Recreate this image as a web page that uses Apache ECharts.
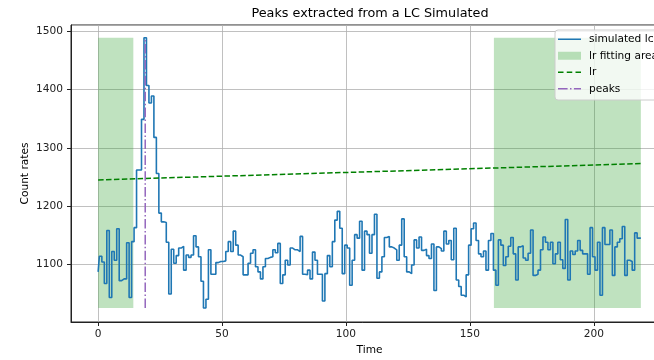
<!DOCTYPE html>
<html>
<head>
<meta charset="utf-8">
<script src="https://cdn.jsdelivr.net/npm/echarts@6/dist/echarts.min.js"></script>
<style>
html, body { margin: 0; padding: 0; background: #fff; }
#chart { width: 654px; height: 360px; }
</style>
</head>
<body>
<div id="chart"></div>
<script>
// simulated light curve, one count rate per time bin (t = 0 .. 219)
var lcRates = [
	1087, 1114, 1104, 1067, 1158, 1043, 1122, 1107, 1161, 1072,
	1075, 1075, 1137, 1043, 1139, 1163, 1262, 1262, 1349, 1489,
	1407, 1377, 1389, 1318, 1256, 1188, 1173, 1172, 1138, 1049,
	1126, 1102, 1115, 1128, 1131, 1090, 1116, 1112, 1116, 1149,
	1130, 1113, 1071, 1025, 1040, 1125, 1083, 1083, 1103, 1105,
	1105, 1106, 1122, 1139, 1122, 1157, 1133, 1116, 1113, 1082,
	1082, 1102, 1119, 1125, 1096, 1087, 1075, 1096, 1110, 1112,
	1113, 1125, 1120, 1136, 1067, 1082, 1107, 1099, 1128, 1125,
	1125, 1122, 1148, 1083, 1082, 1090, 1075, 1121, 1107, 1083,
	1083, 1037, 1084, 1115, 1096, 1139, 1176, 1191, 1162, 1084,
	1133, 1128, 1064, 1107, 1151, 1145, 1174, 1090, 1157, 1151,
	1119, 1151, 1186, 1076, 1087, 1113, 1146, 1148, 1130, 1128,
	1125, 1107, 1133, 1178, 1113, 1087, 1084, 1099, 1142, 1128,
	1147, 1124, 1126, 1115, 1110, 1135, 1055, 1130, 1127, 1123,
	1157, 1135, 1141, 1108, 1162, 1073, 1062, 1047, 1044, 1082,
	1133, 1161, 1171, 1141, 1118, 1113, 1123, 1090, 1141, 1153,
	1090, 1064, 1142, 1133, 1098, 1113, 1131, 1146, 1118, 1073,
	1130, 1132, 1111, 1107, 1119, 1159, 1081, 1083, 1090, 1125,
	1147, 1138, 1125, 1138, 1101, 1118, 1138, 1108, 1093, 1177,
	1073, 1123, 1117, 1123, 1141, 1124, 1118, 1118, 1083, 1163,
	1113, 1090, 1138, 1047, 1163, 1134, 1134, 1159, 1081, 1130,
	1138, 1144, 1165, 1081, 1107, 1105, 1090, 1154, 1145, 1145
];

// linear fit (lr) end points
var lrTimes = [0, 219];
var lrRates = [1245, 1273];

// detected peaks
var peakTimes = [19];

// lr fitting areas [start, end]
var fitStarts = [0, 159.7];
var fitEnds = [14.2, 219];

var chart = echarts.init(document.getElementById('chart'));

var lcMin = Math.min.apply(null, lcRates);
var lcMax = Math.max.apply(null, lcRates);

var lcData = lcRates.map(function (v, i) { return [i, v]; });
var lrData = lrTimes.map(function (t, i) { return [t, lrRates[i]]; });
var peakData = [];
peakTimes.forEach(function (t) {
	peakData.push([t, lcMin], [t, lcMax], null);
});
var areaData = fitStarts.map(function (s, i) {
	return [{ xAxis: s, yAxis: lcMin }, { xAxis: fitEnds[i], yAxis: lcMax }];
});

var font = 'DejaVu Sans';
var fs = 10.6;

option = {
	animation: false,
	title: {
		text: 'Peaks extracted from a LC Simulated',
		left: 370,
		textAlign: 'center',
		top: 7,
		padding: 0,
		textStyle: { fontFamily: font, fontSize: 12.8, fontWeight: 'normal', color: '#000' }
	},
	grid: {
		left: 71, right: -14, top: 25, bottom: 38,
		outerBoundsMode: 'none',
		containLabel: false,
		show: true, borderColor: '#222', borderWidth: 1, backgroundColor: '#fff'
	},
	legend: {
		orient: 'vertical',
		left: 555,
		top: 30,
		padding: [3, 3, 5, 3],
		itemGap: 4,
		itemWidth: 23,
		itemHeight: 8,
		backgroundColor: 'rgba(255,255,255,0.8)',
		borderColor: '#ccc',
		borderWidth: 1,
		borderRadius: 3,
		textStyle: { fontFamily: font, fontSize: fs, lineHeight: 12.5, color: '#000', padding: [0, 0, 0, 3] },
		data: [
			{ name: 'simulated lc', icon: 'path://M0,0h23v1.5h-23z', itemStyle: { color: '#1f77b4', borderWidth: 0 } },
			{ name: 'lr fitting area', icon: 'rect', itemStyle: { color: 'rgba(44,160,44,0.3)', borderWidth: 0 } },
			{ name: 'lr', icon: 'path://M0,0h5.5v1.5h-5.5zM8.75,0h5.5v1.5h-5.5zM17.5,0h5.5v1.5h-5.5z', itemStyle: { color: '#008000', borderWidth: 0 } },
			{ name: 'peaks', icon: 'path://M0,0h9.6v1.5h-9.6zM12,0h1.5v1.5h-1.5zM15.9,0h7.1v1.5h-7.1z', itemStyle: { color: '#9467bd', borderWidth: 0 } }
		]
	},
	xAxis: {
		type: 'value',
		min: -10.95,
		max: 229.95,
		name: 'Time',
		nameLocation: 'middle',
		nameGap: 23,
		nameMoveOverlap: false,
		nameTextStyle: { fontFamily: font, fontSize: fs, color: '#000' },
		axisLine: { onZero: false, lineStyle: { color: '#222', width: 1 } },
		axisTick: { show: true, length: 4, lineStyle: { color: '#222' } },
		axisLabel: {
			fontFamily: font, fontSize: fs, color: '#222', margin: 7,
			showMinLabel: false, showMaxLabel: false,
			formatter: function (v) { return v % 50 === 0 ? String(v) : ''; }
		},
		splitLine: { show: true, lineStyle: { color: '#b0b0b0', width: 0.8 } }
	},
	yAxis: {
		type: 'value',
		min: 1001,
		max: 1511,
		name: 'Count rates',
		nameLocation: 'middle',
		nameGap: 40,
		nameMoveOverlap: false,
		nameTextStyle: { fontFamily: font, fontSize: fs, color: '#000' },
		axisLine: { show: true, onZero: false, lineStyle: { color: '#222', width: 1 } },
		axisTick: { show: true, length: 4, lineStyle: { color: '#222' } },
		axisLabel: {
			fontFamily: font, fontSize: fs, color: '#222', margin: 8,
			showMinLabel: false, showMaxLabel: false,
			formatter: function (v) { return v % 100 === 0 ? String(v) : ''; }
		},
		splitLine: { show: true, lineStyle: { color: '#b0b0b0', width: 0.8 } }
	},
	series: [
		{
			name: 'lr fitting area',
			type: 'line',
			data: [],
			symbol: 'none',
			color: 'rgba(44,160,44,0.3)',
			markArea: {
				silent: true,
				itemStyle: { color: 'rgba(44,160,44,0.3)' },
				data: areaData
			}
		},
		{
			name: 'simulated lc',
			type: 'line',
			step: 'middle',
			data: lcData,
			symbol: 'none',
			color: '#1f77b4',
			lineStyle: { width: 1.6, color: '#1f77b4' },
			z: 3
		},
		{
			name: 'lr',
			type: 'line',
			data: lrData,
			symbol: 'none',
			color: '#008000',
			lineStyle: { width: 1.5, type: [5.5, 2.4], color: '#008000' },
			z: 4
		},
		{
			name: 'peaks',
			type: 'line',
			data: peakData,
			symbol: 'none',
			color: '#9467bd',
			lineStyle: { width: 1.5, type: [9.6, 2.4, 1.5, 2.4], color: '#9467bd' },
			z: 5
		}
	]
};

chart.setOption(option);
</script>
</body>
</html>
